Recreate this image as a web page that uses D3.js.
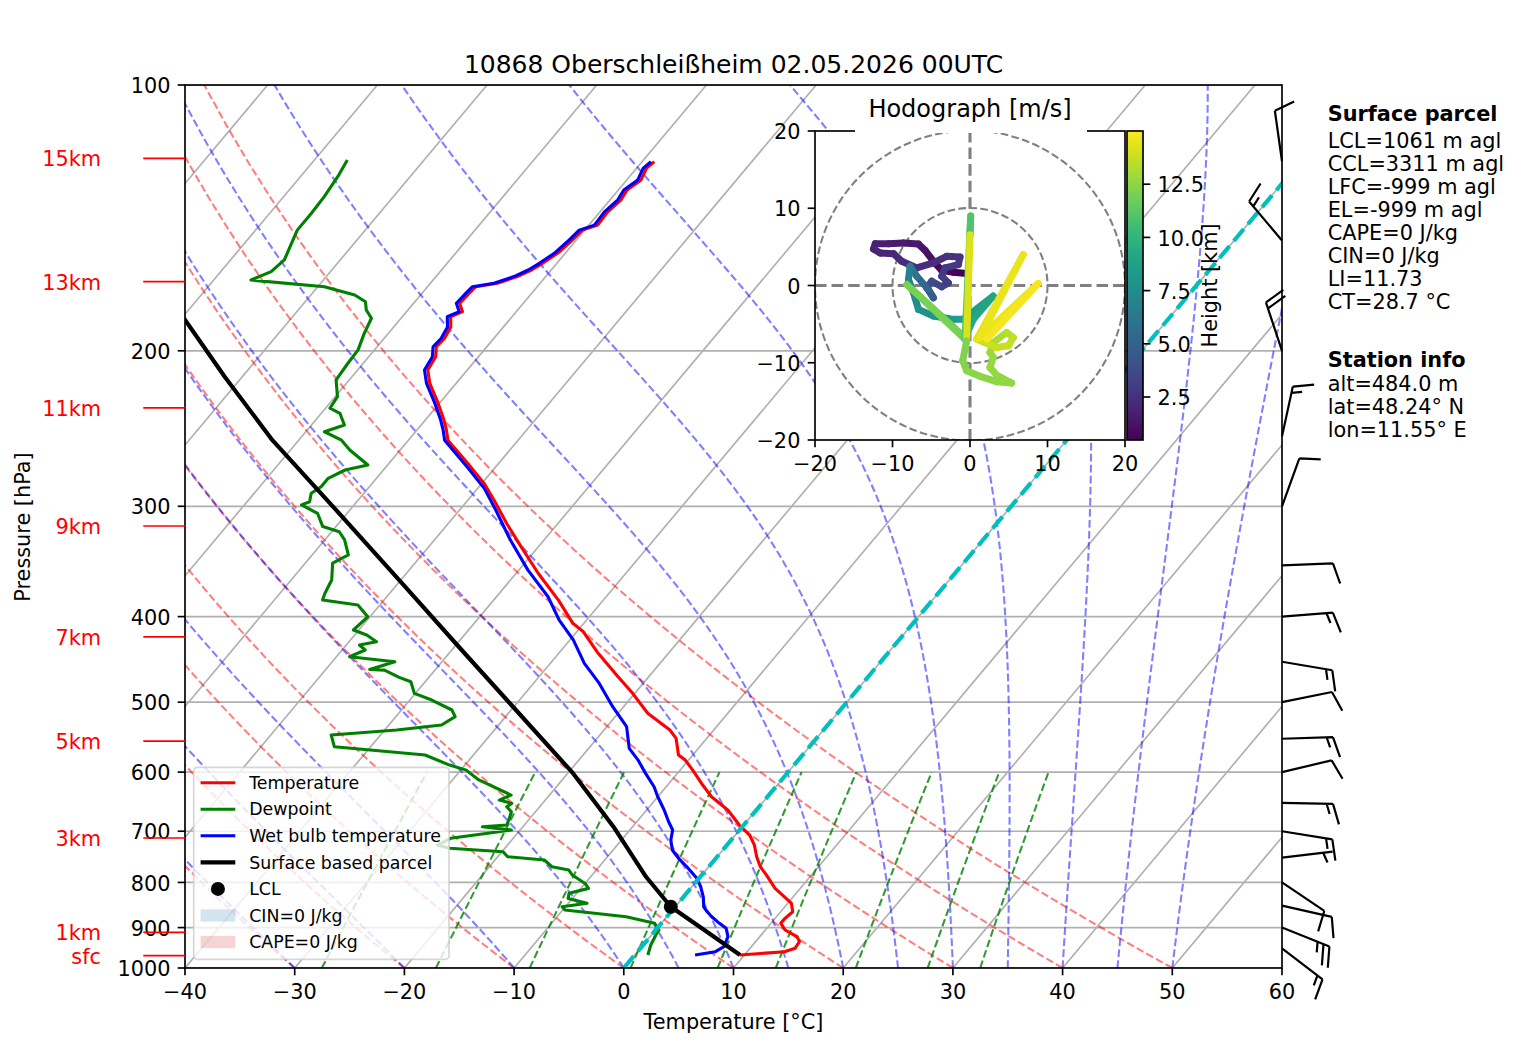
<!DOCTYPE html>
<html><head><meta charset="utf-8">
<script src="https://cdn.jsdelivr.net/npm/d3@7"></script>
<style>
body{margin:0;background:#fff}
svg{font-family:"DejaVu Sans",sans-serif}
</style>
</head><body>
<svg id="c" width="1517" height="1054"></svg>
<script>
// ---------------- DATA ----------------
const titleText = "10868 Oberschleißheim 02.05.2026 00UTC";
const tempP = [966.7,958.4,949.9,933.7,921.6,905.7,890.1,878.6,863.6,844.2,830.5,812.5,784.8,767.9,748.1,725.7,707.0,688.8,662.4,639.9,620.6,602.0,594.2,581.5,573.9,549.4,537.6,514.7,488.6,467.9,440.2,416.1,407.1,383.1,357.2,333.2,313.6,296.5,282.6,268.3,252.5,246.0,239.6,229.4,217.7,210.3,203.1,197.9,193.6,187.9,183.0,180.6,176.7,172.2,169.2,167.7,164.8,162.0,159.2,155.1,150.5,146.0,144.1,139.2,134.9,131.5,128.1,124.2,122.1];
const tempT = [9.6,13.4,14.1,14.0,13.4,11.8,10.9,10.9,11.1,10.3,9.2,7.7,5.9,4.7,3.6,2.5,1.3,-0.4,-2.6,-5.1,-6.8,-8.4,-9.1,-10.3,-11.3,-12.8,-14.0,-17.3,-20.2,-22.8,-26.4,-29.4,-31.0,-34.1,-38.0,-41.6,-44.7,-47.4,-49.8,-52.8,-56.4,-57.3,-58.3,-60.1,-62.4,-63.6,-63.9,-64.6,-64.5,-64.8,-65.6,-64.9,-65.8,-65.7,-65.6,-63.9,-62.6,-61.8,-61.3,-60.7,-60.4,-60.2,-59.2,-59.3,-59.0,-59.2,-58.7,-59.1,-58.9];
const dewP = [966.7,941.8,917.6,905.7,890.1,874.9,859.7,852.4,844.8,834.0,823.0,812.5,802.1,784.8,774.6,767.9,754.6,748.1,738.4,731.9,725.7,713.1,697.8,691.8,688.8,679.9,665.3,656.8,651.0,645.4,637.0,612.4,596.9,589.1,573.9,561.7,544.6,537.6,530.6,519.2,510.3,497.2,488.6,474.1,468.7,459.9,459.1,449.9,444.1,436.4,430.7,427.0,419.7,414.2,400.2,388.1,383.1,376.4,363.6,348.0,340.6,327.4,320.6,316.3,305.5,298.9,296.5,290.0,285.1,278.9,272.9,269.4,259.0,252.5,247.0,242.7,235.4,232.3,225.4,215.8,206.6,199.5,191.1,183.7,179.8,176.0,172.9,169.2,166.3,162.7,157.8,146.0,139.8,133.8,127.0,121.6];
const dewT = [1.2,0.7,0.4,0.3,-0.6,-3.7,-9.8,-10.3,-8.3,-10.4,-10.7,-9.3,-10.0,-11.8,-12.5,-14.3,-15.5,-19.1,-19.9,-25.0,-26.4,-25.7,-20.8,-23.7,-21.6,-21.8,-22.2,-23.0,-22.8,-24.2,-23.5,-27.6,-29.5,-31.4,-34.4,-43.3,-44.5,-38.9,-35.2,-34.6,-35.4,-38.0,-40.1,-41.3,-42.7,-44.6,-46.0,-44.3,-48.8,-47.9,-48.8,-47.5,-48.9,-50.5,-50.2,-52.0,-55.6,-55.9,-56.3,-57.5,-56.7,-58.2,-59.3,-61.2,-62.7,-64.8,-64.3,-64.8,-64.4,-64.4,-63.5,-61.8,-64.6,-66.1,-68.3,-67.0,-68.3,-69.6,-69.8,-71.2,-71.4,-71.5,-72.2,-72.7,-73.8,-74.5,-76.0,-79.4,-86.6,-85.4,-85.1,-86.2,-86.2,-86.3,-86.6,-87.0];
const wbP = [966.7,958.4,946.0,921.6,901.7,890.1,874.9,863.6,852.4,830.5,809.1,791.5,767.9,751.3,735.2,716.3,697.8,682.9,662.4,639.9,623.4,602.0,581.5,564.0,533.0,505.9,476.1,451.8,425.0,403.6,379.8,354.1,327.4,302.9,286.3,271.7,252.5,246.0,239.6,229.4,217.7,210.3,203.1,197.9,193.6,187.9,183.0,180.6,176.7,172.2,169.2,167.7,164.8,162.0,159.2,155.1,150.5,146.0,144.1,139.2,134.9,131.5,128.1,124.2,122.1];
const wbT = [5.5,7.1,7.5,7.1,6.3,5.3,4.1,3.3,2.6,1.8,0.8,-0.2,-2.0,-3.4,-4.6,-5.5,-6.1,-7.1,-8.4,-10.0,-11.1,-12.9,-14.6,-16.3,-18.2,-21.0,-24.0,-26.9,-29.7,-32.5,-35.3,-39.2,-43.1,-46.7,-49.4,-52.4,-56.7,-57.6,-58.6,-60.4,-62.7,-63.9,-64.2,-64.9,-64.8,-65.1,-65.9,-65.2,-66.1,-66.0,-65.9,-64.2,-62.9,-62.1,-61.6,-61.0,-60.7,-60.5,-59.5,-59.6,-59.3,-59.5,-59.0,-59.4,-59.2];
const parcelP = [966.7,910.0,852.4,788.3,691.8,602.0,501.7,436.4,370.0,300.2,252.5,214.0,183.7,150.0,122.1];
const parcelT = [9.6,4.8,-0.4,-4.95,-11.75,-19.5,-30.6,-39.1,-49.1,-61.8,-72.4,-81.6,-89.8,-100.1,-109.9];
const lclP = 852.4, lclT = -0.4;

const pTicks = [100,200,300,400,500,600,700,800,900,1000];
const tTicks = [-40,-30,-20,-10,0,10,20,30,40,50,60];
const kmLabels = ["15km","13km","11km","9km","7km","5km","3km","1km","sfc"];
const kmP = [121.1,167.0,232.1,315.8,421.7,553.4,712.5,911.3,968.4];

const dryT0 = [-40,-30,-20,-10,0,10,20,30,40,50];
const moistT0 = [-40,-30,-20,-10,0,5,10,15,20,25,30,35,40,45,50];
const mixW = [0.0004,0.001,0.002,0.004,0.007,0.01,0.016,0.024,0.032];

// wind barbs (knots)
const barbP = [950,900,850,800,750,700,650,600,550,500,450,400,350,300,250,200,150,122];
const barbU = [-11.9,-23.2,-9.8,-8.3,-5.0,-14.8,-15.0,-9.7,-15.0,-9.8,-14.8,-15.0,-10.0,-3.4,-3.2,6.3,9.7,1.4];
const barbV = [9.1,9.2,2.2,5.6,-0.6,2.4,0.3,-2.3,-0.5,-2.0,2.5,-1.2,-0.4,-9.4,-14.7,-19.0,-11.5,-9.9];

// hodograph (m/s, height km)
const hodoH = [0.48,0.70,0.90,1.10,1.25,1.40,1.55,1.70,1.85,1.95,2.05,2.15,2.25,2.35,2.45,2.55,2.65,2.75,2.85,3.00,3.20,3.50,3.80,4.20,4.70,5.20,6.00,6.60,7.00,7.40,7.80,8.10,8.40,8.70,9.00,9.30,11.80,12.00,11.20,11.00,14.20,12.20,12.30,12.40,12.50,12.55,12.60,12.65,12.70,12.80,12.90,13.20,13.40,13.60,13.70,13.80,14.40,14.50,14.60,14.80,15.00];
const hodoU = [-0.43,-2.15,-3.65,-4.72,-5.79,-6.65,-8.58,-10.52,-12.23,-12.45,-11.59,-9.87,-8.80,-6.87,-4.72,-3.00,-1.29,-1.50,-3.22,-3.65,-2.79,-3.65,-4.94,-5.58,-4.72,-5.36,-6.87,-7.73,-7.94,-7.30,-6.65,-4.72,-2.15,-0.86,3.00,0.43,-0.64,-8.15,-0.64,0.09,0.00,-0.43,-0.94,-0.43,1.29,3.43,5.36,3.43,2.58,3.00,2.58,3.00,4.72,5.58,4.94,3.43,0.86,6.87,1.29,8.80,2.15];
const hodoV = [1.55,1.72,1.97,3.13,4.55,5.36,5.49,5.41,5.41,4.72,4.21,4.12,3.13,2.27,2.92,3.78,3.69,2.70,2.27,1.20,0.34,-0.17,0.56,-0.30,-1.59,-0.52,1.20,2.49,0.77,-0.94,-3.09,-3.95,-4.38,-4.38,-1.37,-4.38,-6.74,0.13,-6.95,9.01,6.57,-7.17,-9.74,-11.03,-11.76,-12.45,-12.62,-11.59,-10.60,-9.31,-8.67,-7.38,-6.09,-6.74,-7.81,-8.03,-6.95,3.99,-6.74,0.26,-6.95];
const hodoTicks = [-20,-10,0,10,20];
const hodoRings = [10,20];
const cbarTicks = [2.5,5.0,7.5,10.0,12.5];

const parcelHeader = "Surface parcel";
const parcelInfo = ["LCL=1061 m agl","CCL=3311 m agl","LFC=-999 m agl","EL=-999 m agl","CAPE=0 J/kg","CIN=0 J/kg","LI=11.73","CT=28.7 °C"];
const stationHeader = "Station info";
const stationInfo = ["alt=484.0 m","lat=48.24° N","lon=11.55° E"];
const legendLabels = ["Temperature","Dewpoint","Wet bulb temperature","Surface based parcel","LCL","CIN=0 J/kg","CAPE=0 J/kg"];

// ---------------- LAYOUT ----------------
const svg = d3.select('#c');
const L=185, R=1282, T=85, B=968;
const FS = 20.83;
const yP = d3.scaleLog().domain([1000,100]).range([B,T]);
const xT = d3.scaleLinear().domain([-40,60]).range([L,R]);
const SKEW = 0.839;
const X = (t,p) => xT(t) + SKEW*(B - yP(p));
const skewLine = d3.line().x(d=>X(d[1],d[0])).y(d=>yP(d[0]));
const fmtMinus = v => (v<0? "\u2212"+Math.abs(v) : ""+v);

const defs = svg.append('defs');
defs.append('clipPath').attr('id','clipMain').append('rect').attr('x',L).attr('y',T).attr('width',R-L).attr('height',B-T);

const gMain = svg.append('g').attr('clip-path','url(#clipMain)');

// grid: isotherms
for (let t=-170; t<=60; t+=10){
  gMain.append('path').attr('d', skewLine([[1000,t],[100,t]]))
    .attr('stroke','#b0b0b0').attr('stroke-width',1.67).attr('fill','none');
}
// horizontal grid
pTicks.forEach(p=>{
  gMain.append('line').attr('x1',L).attr('x2',R).attr('y1',yP(p)).attr('y2',yP(p))
    .attr('stroke','#b0b0b0').attr('stroke-width',1.67);
});

// thermodynamics for background lines
const Rd=287.04749, Cp=1004.6662, Lv=2.50084e6, EPS=0.621957, KAP=Rd/Cp;
const esat = Tk => { const c=Tk-273.15; return 6.112*Math.exp(17.67*c/(c+243.5)); };
const rsat = (p,Tk) => { const e=esat(Tk); return EPS*e/(p-e); };
const dTdp = (p,Tk) => { const r=rsat(p,Tk); return (1/p)*(Rd*Tk + Lv*r)/(Cp + (Lv*Lv*r*EPS)/(Rd*Tk*Tk)); };
const pLin = (a,b,n) => d3.range(n).map(i=>a+(b-a)*i/(n-1));

// dry adiabats
dryT0.forEach(t0=>{
  const pts = pLin(1000,100,80).map(p=>[p,(t0+273.15)*Math.pow(p/1000,KAP)-273.15]);
  gMain.append('path').attr('d',skewLine(pts)).attr('fill','none')
    .attr('stroke','red').attr('stroke-opacity',0.5).attr('stroke-width',2.08).attr('stroke-dasharray','7.7,3.33');
});
// moist adiabats
moistT0.forEach(t0=>{
  let Tk=t0+273.15, p=1000; const pts=[[p,t0]];
  while (p>100.0001){
    const h=Math.max(-2,100-p);
    const k1=dTdp(p,Tk), k2=dTdp(p+h/2,Tk+h/2*k1), k3=dTdp(p+h/2,Tk+h/2*k2), k4=dTdp(p+h,Tk+h*k3);
    Tk+=h/6*(k1+2*k2+2*k3+k4); p+=h; pts.push([p,Tk-273.15]);
  }
  gMain.append('path').attr('d',skewLine(pts)).attr('fill','none')
    .attr('stroke','blue').attr('stroke-opacity',0.5).attr('stroke-width',2.08).attr('stroke-dasharray','7.7,3.33');
});
// mixing ratio lines
mixW.forEach(w=>{
  const pts = pLin(1000,600,50).map(p=>{ const e=p*w/(EPS+w); const v=Math.log(e/6.112); return [p,243.5*v/(17.67-v)]; });
  gMain.append('path').attr('d',skewLine(pts)).attr('fill','none')
    .attr('stroke','green').attr('stroke-opacity',0.8).attr('stroke-width',2.08).attr('stroke-dasharray','7.7,3.33');
});

// profiles
const zipPT = (P,Tt) => P.map((p,i)=>[p,Tt[i]]);
gMain.append('path').attr('d',skewLine(zipPT(tempP,tempT))).attr('fill','none').attr('stroke','red').attr('stroke-width',3.1).attr('stroke-linejoin','round');
gMain.append('path').attr('d',skewLine(zipPT(dewP,dewT))).attr('fill','none').attr('stroke','green').attr('stroke-width',3.1).attr('stroke-linejoin','round');
gMain.append('path').attr('d',skewLine(zipPT(wbP,wbT))).attr('fill','none').attr('stroke','blue').attr('stroke-width',3.1).attr('stroke-linejoin','round');
gMain.append('path').attr('d',skewLine(zipPT(parcelP,parcelT)))
  .attr('fill','none').attr('stroke','black').attr('stroke-width',4.17).attr('stroke-linejoin','round');
// 0 degC isotherm
gMain.append('path').attr('d',skewLine([[1000,0],[100,0]])).attr('fill','none')
  .attr('stroke','#00bfbf').attr('stroke-width',4.17).attr('stroke-dasharray','15.4,6.67');
// LCL
gMain.append('circle').attr('cx',X(lclT,lclP)).attr('cy',yP(lclP)).attr('r',7).attr('fill','black');

// legend
const lg = svg.append('g');
const LFS = 17.36;
lg.append('rect').attr('x',193.7).attr('y',767.3).attr('width',255.3).attr('height',192).attr('rx',3.5)
  .attr('fill','white').attr('fill-opacity',0.8).attr('stroke','#cccccc').attr('stroke-opacity',0.8).attr('stroke-width',1.67);
const legendStyles = [
  {type:'line',c:'red',w:3.1},{type:'line',c:'green',w:3.1},{type:'line',c:'blue',w:3.1},{type:'line',c:'black',w:4.17},
  {type:'dot'},{type:'patch',c:'#1f77b4'},{type:'patch',c:'#d62728'}];
legendLabels.forEach((lab,i)=>{
  const cy = 782.7 + 26.55*i, st = legendStyles[i];
  if (st.type==='line') lg.append('line').attr('x1',200.6).attr('x2',235.3).attr('y1',cy).attr('y2',cy).attr('stroke',st.c).attr('stroke-width',st.w);
  else if (st.type==='dot') lg.append('circle').attr('cx',217.95).attr('cy',cy).attr('r',7).attr('fill','black');
  else lg.append('rect').attr('x',200.6).attr('y',cy-6.1).attr('width',34.7).attr('height',12.2).attr('fill',st.c).attr('fill-opacity',0.2);
  lg.append('text').attr('x',249.2).attr('y',cy+6.2).attr('font-size',LFS).text(lab);
});

// axes spines & ticks
const ax = svg.append('g');
ax.append('rect').attr('x',L).attr('y',T).attr('width',R-L).attr('height',B-T).attr('fill','none').attr('stroke','black').attr('stroke-width',1.67);
pTicks.forEach(p=>{
  ax.append('line').attr('x1',L-7.3).attr('x2',L).attr('y1',yP(p)).attr('y2',yP(p)).attr('stroke','black').attr('stroke-width',1.67);
  ax.append('text').attr('x',L-14.6).attr('y',yP(p)+8.2).attr('text-anchor','end').attr('font-size',FS).text(p);
});
tTicks.forEach(t=>{
  ax.append('line').attr('x1',xT(t)).attr('x2',xT(t)).attr('y1',B).attr('y2',B+7.3).attr('stroke','black').attr('stroke-width',1.67);
  ax.append('text').attr('x',xT(t)).attr('y',999).attr('text-anchor','middle').attr('font-size',FS).text(fmtMinus(t));
});
// km labels
kmLabels.forEach((lab,i)=>{
  const y=yP(kmP[i]);
  ax.append('line').attr('x1',143.3).attr('x2',L).attr('y1',y).attr('y2',y).attr('stroke','red').attr('stroke-width',1.67);
  ax.append('text').attr('x',101).attr('y',y+8).attr('text-anchor','end').attr('font-size',FS).attr('fill','red').text(lab);
});
ax.append('text').attr('x',(L+R)/2).attr('y',1029).attr('text-anchor','middle').attr('font-size',FS).text('Temperature [°C]');
ax.append('text').attr('transform','translate(30,527) rotate(-90)').attr('text-anchor','middle').attr('font-size',FS).text('Pressure [hPa]');
ax.append('text').attr('x',(L+R)/2).attr('y',72.5).attr('text-anchor','middle').attr('font-size',25).text(titleText);

// wind barbs
const gB = svg.append('g');
function barbPath(bx,by,u,v){
  const Ls=51, h=0.4*Ls, w=0.25*Ls, sp=0.125*Ls;
  let mag = 5*Math.round(Math.hypot(u,v)/5);
  const nflag=Math.floor(mag/50); let rem=mag-50*nflag;
  const nbarb=Math.floor(rem/10); const half=(rem-10*nbarb)>=5;
  const a=Math.atan2(v,u)+Math.PI/2, c=Math.cos(a), s=Math.sin(a);
  const P=(x,y)=>[(bx + x*c - y*s).toFixed(2),(by - (x*s + y*c)).toFixed(2)].join(',');
  let d=`M${P(0,0)}L${P(0,Ls)}`; let off=Ls;
  for(let i=0;i<nflag;i++){ d+=`M${P(0,off)}L${P(h,off-w/2)}L${P(0,off-w)}Z`; off-=w+sp; }
  for(let i=0;i<nbarb;i++){ d+=`M${P(0,off)}L${P(h,off+w/2)}`; off-=sp; }
  if(half){ if(off===Ls) off-=1.5*sp; d+=`M${P(0,off)}L${P(h/2,off+w/4)}`; }
  return d;
}
barbP.forEach((p,i)=>{
  gB.append('path').attr('d',barbPath(R,yP(p),barbU[i],barbV[i])).attr('fill','none')
    .attr('stroke','black').attr('stroke-width',2.2).attr('stroke-linejoin','miter');
});

// info text
const gT = svg.append('g').attr('font-size',FS);
gT.append('text').attr('x',1327.7).attr('y',121.3).attr('font-weight','bold').text(parcelHeader);
parcelInfo.forEach((s,i)=>gT.append('text').attr('x',1327.7).attr('y',147.7+23.1*i).text(s));
gT.append('text').attr('x',1327.7).attr('y',366.7).attr('font-weight','bold').text(stationHeader);
stationInfo.forEach((s,i)=>gT.append('text').attr('x',1327.7).attr('y',390.8+23.0*i).text(s));

// ---------------- HODOGRAPH ----------------
const HL=815, HR=1125, HT=131, HB=440;
const hx = d3.scaleLinear().domain([-20,20]).range([HL,HR]);
const hy = d3.scaleLinear().domain([-20,20]).range([HB,HT]);
const gH = svg.append('g');
defs.append('clipPath').attr('id','clipHodo').append('rect').attr('x',HL).attr('y',HT).attr('width',HR-HL).attr('height',HB-HT);
gH.append('rect').attr('x',HL).attr('y',HT).attr('width',HR-HL).attr('height',HB-HT).attr('fill','white');
const gHc = gH.append('g').attr('clip-path','url(#clipHodo)');
hodoRings.forEach(r=>{
  gHc.append('circle').attr('cx',hx(0)).attr('cy',hy(0)).attr('r',hx(r)-hx(0)).attr('fill','none')
    .attr('stroke','#808080').attr('stroke-width',2.08).attr('stroke-dasharray','7.7,3.33');
});
gHc.append('line').attr('x1',hx(0)).attr('x2',hx(0)).attr('y1',HT).attr('y2',HB).attr('stroke','#808080').attr('stroke-width',3.1).attr('stroke-dasharray','11.56,5');
gHc.append('line').attr('x1',HL).attr('x2',HR).attr('y1',hy(0)).attr('y2',hy(0)).attr('stroke','#808080').attr('stroke-width',3.1).attr('stroke-dasharray','11.56,5');
const hMin=d3.min(hodoH), hMax=d3.max(hodoH);
const cNorm = d3.scaleLinear().domain([hMin,hMax]).range([0,1]);
for(let i=0;i<hodoH.length-1;i++){
  gHc.append('line').attr('x1',hx(hodoU[i])).attr('y1',hy(hodoV[i])).attr('x2',hx(hodoU[i+1])).attr('y2',hy(hodoV[i+1]))
    .attr('stroke',d3.interpolateViridis(cNorm(hodoH[i]))).attr('stroke-width',7).attr('stroke-linecap','round');
}
gH.append('rect').attr('x',HL).attr('y',HT).attr('width',HR-HL).attr('height',HB-HT).attr('fill','none').attr('stroke','black').attr('stroke-width',1.67);
hodoTicks.forEach(t=>{
  gH.append('line').attr('x1',hx(t)).attr('x2',hx(t)).attr('y1',HB).attr('y2',HB+7.3).attr('stroke','black').attr('stroke-width',1.67);
  gH.append('text').attr('x',hx(t)).attr('y',HB+30.5).attr('text-anchor','middle').attr('font-size',FS).text(fmtMinus(t));
  gH.append('line').attr('x1',HL-7.3).attr('x2',HL).attr('y1',hy(t)).attr('y2',hy(t)).attr('stroke','black').attr('stroke-width',1.67);
  gH.append('text').attr('x',HL-14.6).attr('y',hy(t)+8.2).attr('text-anchor','end').attr('font-size',FS).text(fmtMinus(t));
});
// title with white box
gH.append('rect').attr('x',855).attr('y',86).attr('width',232).attr('height',47).attr('fill','white');
gH.append('text').attr('x',(HL+HR)/2).attr('y',117).attr('text-anchor','middle').attr('font-size',24).text('Hodograph [m/s]');

// colorbar
const CL=1127, CR=1143;
const grad = defs.append('linearGradient').attr('id','vir').attr('x1',0).attr('y1',1).attr('x2',0).attr('y2',0);
d3.range(0,1.0001,0.05).forEach(f=>grad.append('stop').attr('offset',f).attr('stop-color',d3.interpolateViridis(f)));
gH.append('rect').attr('x',CL).attr('y',HT).attr('width',CR-CL).attr('height',HB-HT).attr('fill','url(#vir)').attr('stroke','black').attr('stroke-width',1.67);
const cy = d3.scaleLinear().domain([hMin,hMax]).range([HB,HT]);
cbarTicks.forEach(t=>{
  gH.append('line').attr('x1',CR).attr('x2',CR+7.3).attr('y1',cy(t)).attr('y2',cy(t)).attr('stroke','black').attr('stroke-width',1.67);
  gH.append('text').attr('x',CR+14.6).attr('y',cy(t)+8.2).attr('font-size',FS).text(t.toFixed(1));
});
gH.append('text').attr('transform',`translate(1217,${(HT+HB)/2}) rotate(-90)`).attr('text-anchor','middle').attr('font-size',FS).text('Height [km]');
</script>
</body></html>
